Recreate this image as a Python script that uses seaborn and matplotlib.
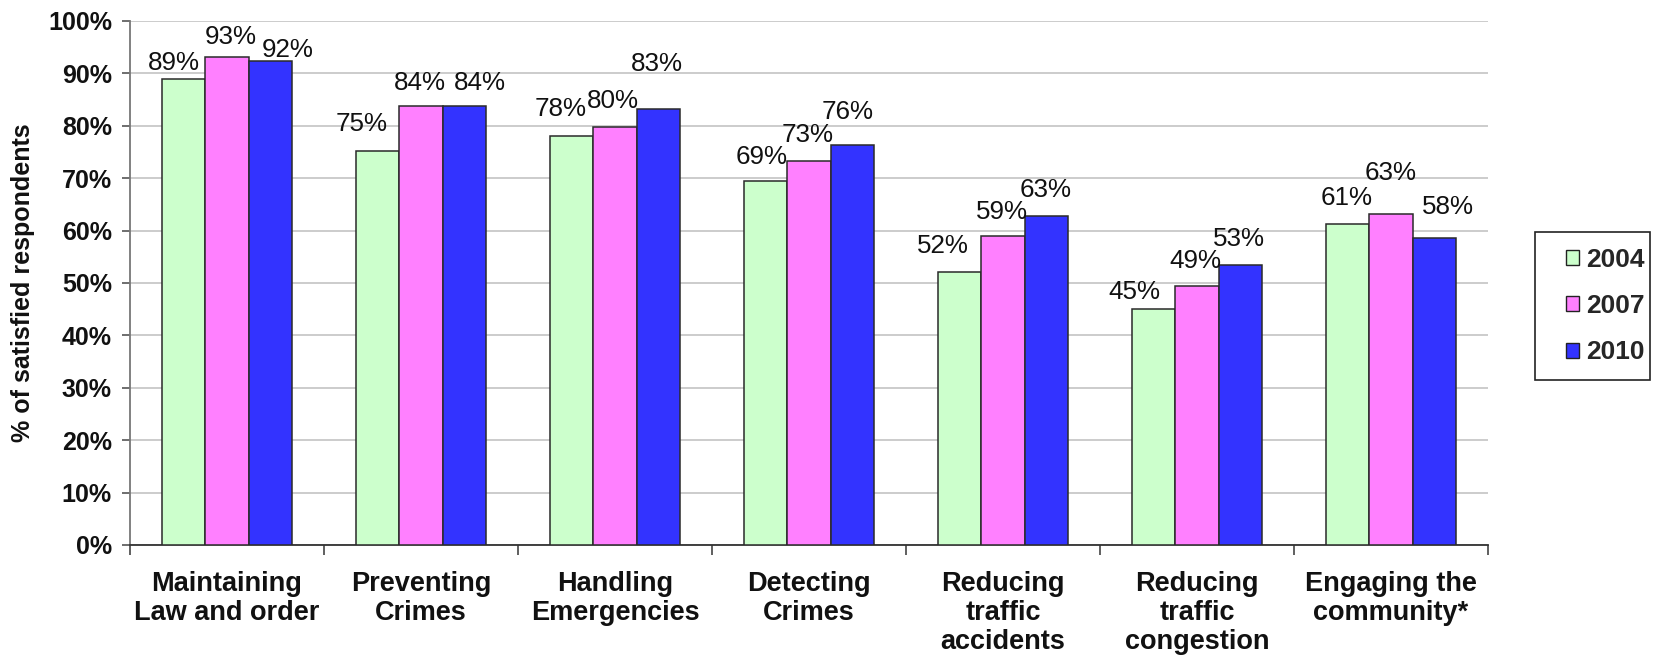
import matplotlib
matplotlib.use("Agg")
import matplotlib.pyplot as plt
from matplotlib.patches import Patch, Rectangle
from matplotlib.ticker import FixedLocator
import seaborn as sns
import pandas as pd

categories = [
    "Maintaining\nLaw and order",
    "Preventing\nCrimes",
    "Handling\nEmergencies",
    "Detecting\nCrimes",
    "Reducing\ntraffic\naccidents",
    "Reducing\ntraffic\ncongestion",
    "Engaging the\ncommunity*",
]
years = ["2004", "2007", "2010"]
satisfied_2004 = [89.0, 75.1, 78.1, 69.4, 52.1, 45.0, 61.2]
satisfied_2007 = [93.1, 83.7, 79.8, 73.3, 58.9, 49.4, 63.2]
satisfied_2010 = [92.3, 83.8, 83.2, 76.3, 62.8, 53.4, 58.5]
colors = ["#CCFFCC", "#FF80FF", "#3333FF"]

# hand-placed label nudges (dx, height of label centre above bar top), pixels
label_nudge = {
    "2004": [(-9.5, 16), (-16.5, 27), (-11, 27), (-4, 24), (-16.5, 26), (-19.5, 17), (-1.5, 26)],
    "2007": [(4, 20), (-1.5, 23.5), (-2, 25.5), (-1.5, 25.5), (-1, 24), (-2, 25), (0, 41)],
    "2010": [(17.5, 11.5), (16, 23), (-1.5, 45), (-4.5, 33), (-1, 26), (-1, 26), (14, 31)],
}

df = pd.DataFrame({
    "category": categories * 3,
    "year": [y for y in years for _ in categories],
    "value": satisfied_2004 + satisfied_2007 + satisfied_2010,
})

sns.set_theme(style="white")
plt.rcParams["font.family"] = ["Liberation Sans", "DejaVu Sans"]

W, H = 1675, 658
fig = plt.figure(figsize=(W / 100, H / 100), dpi=100)
ax = fig.add_axes([130 / W, 1 - 545 / H, (1488 - 130) / W, (545 - 21) / H])

sns.barplot(data=df, x="category", y="value", hue="year", order=categories,
            hue_order=years, palette=colors, saturation=1, width=0.67, gap=0,
            edgecolor="#2a2a2a", linewidth=1.1, errorbar=None, ax=ax,
            legend=False, zorder=3)

# value labels above each bar
for year, container in zip(years, ax.containers):
    for bar, (dx, dy) in zip(container, label_nudge[year]):
        h = bar.get_height()
        ax.annotate(f"{h:.0f}%", (bar.get_x() + bar.get_width() / 2, h),
                    xytext=(dx, dy), textcoords="offset pixels",
                    ha="center", va="center", fontsize=18.7, color="#111111",
                    zorder=4)

ax.set_xlim(-0.5, len(categories) - 0.5)
ax.set_ylim(0, 100)
ax.set_yticks(range(0, 101, 10))
ax.set_yticklabels([f"{v}%" for v in range(0, 101, 10)],
                   fontsize=18, fontweight="bold", color="#111111")
ax.yaxis.grid(True, color="#c4c4c4", linewidth=1.2, zorder=0)
ax.set_axisbelow(True)

ax.set_xticks(range(len(categories)))
ax.set_xticklabels(categories, fontsize=19.5, fontweight="bold",
                   color="#111111", linespacing=1.15)
ax.tick_params(axis="x", which="major", length=0, pad=19)
ax.xaxis.set_minor_locator(FixedLocator([i - 0.5 for i in range(len(categories) + 1)]))
ax.tick_params(axis="x", which="minor", length=7, width=1.2, color="#444444",
               direction="out", bottom=True)
ax.tick_params(axis="y", which="major", length=6, width=1.2, color="#555555",
               direction="out", left=True, pad=7)

ax.set_xlabel("")
ax.set_ylabel("% of satisfied respondents", fontsize=18, fontweight="bold",
              color="#111111", labelpad=9)

for side in ["top", "right"]:
    ax.spines[side].set_visible(False)
ax.spines["left"].set_color("#777777")
ax.spines["left"].set_linewidth(1.3)
ax.spines["bottom"].set_color("#333333")
ax.spines["bottom"].set_linewidth(1.3)

# legend: frame drawn separately so the keys sit with a wide left margin
fig.patches.append(Rectangle((1535 / W, 1 - 380 / H), 115 / W, 148 / H,
                             transform=fig.transFigure, facecolor="white",
                             edgecolor="#222222", linewidth=1.2, zorder=5))
handles = [Patch(facecolor=c, edgecolor="#222222", linewidth=1.0) for c in colors]
leg = fig.legend(handles, years, loc="center left",
                 bbox_to_anchor=(1566 / W, 1 - 306 / H), frameon=False,
                 prop={"family": "Liberation Sans", "weight": "bold", "size": 19},
                 handlelength=0.5, handleheight=0.5, handletextpad=0.28,
                 labelspacing=0.85, borderpad=0, borderaxespad=0)
leg.set_zorder(6)

fig.savefig("out.png", dpi=100)
